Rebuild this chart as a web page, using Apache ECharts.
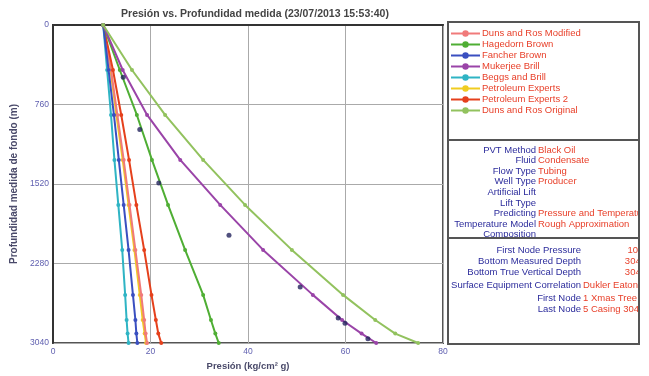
<!DOCTYPE html>
<html>
<head>
<meta charset="utf-8">
<script src="https://cdn.jsdelivr.net/npm/echarts@6/dist/echarts.min.js"></script>
<style>
  html, body { margin: 0; padding: 0; background: #fff; }
  #chart { width: 649px; height: 376px; }
</style>
</head>
<body>
<div id="chart"></div>
<script>
// Measured depths (m) at which each correlation is evaluated
const depths = [0, 430, 860, 1290, 1720, 2150, 2580, 2820, 2950, 3040];

// Pressure (kg/cm2 g) per correlation, one value per depth
const dunsRosModified = [10.3, 11.9, 13.2, 14.5, 15.7, 16.9, 18.1, 18.7, 19.0, 19.3];
const hagedornBrown   = [10.3, 13.7, 17.2, 20.3, 23.6, 27.1, 30.8, 32.4, 33.3, 34.0];
const fancherBrown    = [10.3, 11.4, 12.5, 13.5, 14.5, 15.5, 16.4, 16.9, 17.1, 17.3];
const mukerjeeBrill   = [10.3, 14.3, 19.3, 26.1, 34.3, 43.1, 53.3, 59.3, 63.3, 66.3];
const beggsBrill      = [10.3, 11.1, 11.9, 12.6, 13.4, 14.2, 14.8, 15.1, 15.3, 15.5];
const petroleumExp    = [10.3, 11.8, 13.0, 14.3, 15.5, 16.7, 17.8, 18.4, 18.8, 19.1];
const petroleumExp2   = [10.3, 12.3, 14.0, 15.6, 17.1, 18.7, 20.2, 21.1, 21.6, 22.2];
const dunsRosOriginal = [10.3, 16.2, 23.0, 30.8, 39.4, 49.0, 59.5, 66.1, 70.2, 74.9];

// Field survey points: [pressure, depth]
const surveyPoints = [
  [14.4, 500], [17.8, 1000], [21.7, 1510], [36.1, 2010],
  [50.7, 2505], [58.5, 2800], [59.9, 2850], [64.6, 3000]
];

const correlationNames = [
  'Duns and Ros Modified', 'Hagedorn Brown', 'Fancher Brown', 'Mukerjee Brill',
  'Beggs and Brill', 'Petroleum Experts', 'Petroleum Experts 2', 'Duns and Ros Original'
];
const correlationValues = [
  dunsRosModified, hagedornBrown, fancherBrown, mukerjeeBrill,
  beggsBrill, petroleumExp, petroleumExp2, dunsRosOriginal
];
const correlationColors = [
  '#f07a7a', '#4fae34', '#3a4fc0', '#9a44a8',
  '#2fb4c4', '#f0cc20', '#e5401c', '#92c25e'
];
// Draw order: the lighter lines first so the red/pink ones sit on top
const drawOrder = [5, 0, 6, 4, 2, 1, 3, 7];

// Tick labels
const depthTicks = [0, 760, 1520, 2280, 3040];
const pressureTicks = [0, 20, 40, 60, 80];

// Summary panels
const setupLabels = ['PVT Method', 'Fluid', 'Flow Type', 'Well Type', 'Artificial Lift',
  'Lift Type', 'Predicting', 'Temperature Model', 'Composition'];
const setupValues = ['Black Oil', 'Condensate', 'Tubing', 'Producer', '', '',
  'Pressure and Temperature', 'Rough Approximation', ''];
const nodeLabels = ['First Node Pressure', 'Bottom Measured Depth', 'Bottom True Vertical Depth',
  'Surface Equipment Correlation', 'First Node', 'Last Node'];
const nodeValues = ['10.3', '3040', '3040', 'Dukler Eaton', '1 Xmas Tree', '5 Casing 3040'];
const nodeValueRightAligned = [true, true, true, false, false, false];

const FONT = '"Liberation Sans", Arial, sans-serif';
const chart = echarts.init(document.getElementById('chart'), null, { renderer: 'canvas' });

const series = drawOrder.map(i => ({
  name: correlationNames[i],
  type: 'line',
  data: correlationValues[i].map((p, k) => [p, depths[k]]),
  color: correlationColors[i],
  lineStyle: { width: 2, color: correlationColors[i] },
  itemStyle: { color: correlationColors[i] },
  symbol: 'circle',
  symbolSize: 4,
  showSymbol: true,
  z: 3
}));
series.push({
  name: 'Survey',
  type: 'scatter',
  data: surveyPoints,
  symbol: 'circle',
  symbolSize: 5,
  itemStyle: { color: '#24245e' },
  z: 4
});

const labelColor = '#2c2c9c';
const valueColor = '#e8402a';
const panelFont = '9.5px ' + FONT;

const graphics = [];
// setup panel rows
setupLabels.forEach((t, i) => {
  const y = 150 + i * 10.6;
  graphics.push({ type: 'text', x: 536, y: y, style: { text: t, font: panelFont, fill: labelColor, textAlign: 'right', textVerticalAlign: 'middle' }, z: 10 });
  if (setupValues[i]) {
    graphics.push({ type: 'text', x: 538, y: y, style: { text: setupValues[i], font: panelFont, fill: valueColor, textAlign: 'left', textVerticalAlign: 'middle' }, z: 10 });
  }
});
// node panel rows
const nodeY = [250, 261, 272, 285, 298, 309];
nodeLabels.forEach((t, i) => {
  const y = nodeY[i];
  graphics.push({ type: 'text', x: 581, y: y, style: { text: t, font: panelFont, fill: labelColor, textAlign: 'right', textVerticalAlign: 'middle' }, z: 10 });
  graphics.push({ type: 'text', x: nodeValueRightAligned[i] ? 646 : 583, y: y, style: { text: nodeValues[i], font: panelFont, fill: valueColor, textAlign: nodeValueRightAligned[i] ? 'right' : 'left', textVerticalAlign: 'middle' }, z: 10 });
});
// mask overflow past the panel frame, then the frames
graphics.push({ type: 'rect', shape: { x: 639, y: 0, width: 12, height: 376 }, style: { fill: '#fff' }, z: 20 });
graphics.push({ type: 'rect', shape: { x: 448, y: 22, width: 191, height: 118 }, style: { fill: 'none', stroke: '#555', lineWidth: 2 }, z: 21 });
graphics.push({ type: 'rect', shape: { x: 448, y: 140, width: 191, height: 98 }, style: { fill: 'none', stroke: '#555', lineWidth: 2 }, z: 21 });
graphics.push({ type: 'rect', shape: { x: 448, y: 238, width: 191, height: 106 }, style: { fill: 'none', stroke: '#555', lineWidth: 2 }, z: 21 });
// the composition row runs under the frame line
graphics.push({ type: 'rect', shape: { x: 449, y: 238, width: 189, height: 6 }, style: { fill: '#fff' }, z: 15 });

chart.setOption({
  animation: false,
  backgroundColor: '#ffffff',
  title: {
    text: 'Presión vs. Profundidad medida (23/07/2013 15:53:40)',
    left: 250,
    textAlign: 'center',
    top: 4,
    textStyle: { fontSize: 10.5, fontWeight: 'bold', color: '#444', fontFamily: FONT }
  },
  legend: {
    data: correlationNames,
    orient: 'vertical',
    left: 450,
    top: 28,
    padding: 0,
    itemWidth: 29,
    itemHeight: 8,
    itemGap: 0,
    textStyle: { color: valueColor, fontSize: 9.5, lineHeight: 11, height: 11, fontFamily: FONT, padding: [0, 0, 0, -3] },
    selectedMode: false
  },
  grid: {
    left: 53, top: 25, right: 206, bottom: 33,
    show: true, borderColor: '#555', borderWidth: 2
  },
  xAxis: {
    type: 'value',
    min: pressureTicks[0],
    max: pressureTicks[pressureTicks.length - 1],
    interval: pressureTicks[1] - pressureTicks[0],
    name: 'Presión (kg/cm² g)',
    nameLocation: 'middle',
    nameGap: 17,
    nameTextStyle: { fontSize: 9.5, fontWeight: 'bold', color: '#4a4a6a', fontFamily: FONT },
    axisLine: { lineStyle: { color: '#333', width: 2 } },
    axisTick: { show: false },
    axisLabel: { fontSize: 8.5, color: '#6060b0', margin: 4, formatter: v => String(v) },
    splitLine: { lineStyle: { color: '#aaa', width: 1 } }
  },
  yAxis: {
    type: 'value',
    inverse: true,
    min: depthTicks[0],
    max: depthTicks[depthTicks.length - 1],
    interval: depthTicks[1] - depthTicks[0],
    name: 'Profundidad medida de fondo (m)',
    nameLocation: 'middle',
    nameRotate: 90,
    nameGap: 33,
    nameTextStyle: { fontSize: 10, fontWeight: 'bold', color: '#4a4a6a', fontFamily: FONT },
    axisLine: { lineStyle: { color: '#333', width: 2 } },
    axisTick: { show: false },
    axisLabel: { fontSize: 8.5, color: '#6060b0', margin: 4, formatter: v => String(v) },
    splitLine: { lineStyle: { color: '#aaa', width: 1 } }
  },
  series: series,
  graphic: graphics
});
</script>
</body>
</html>
